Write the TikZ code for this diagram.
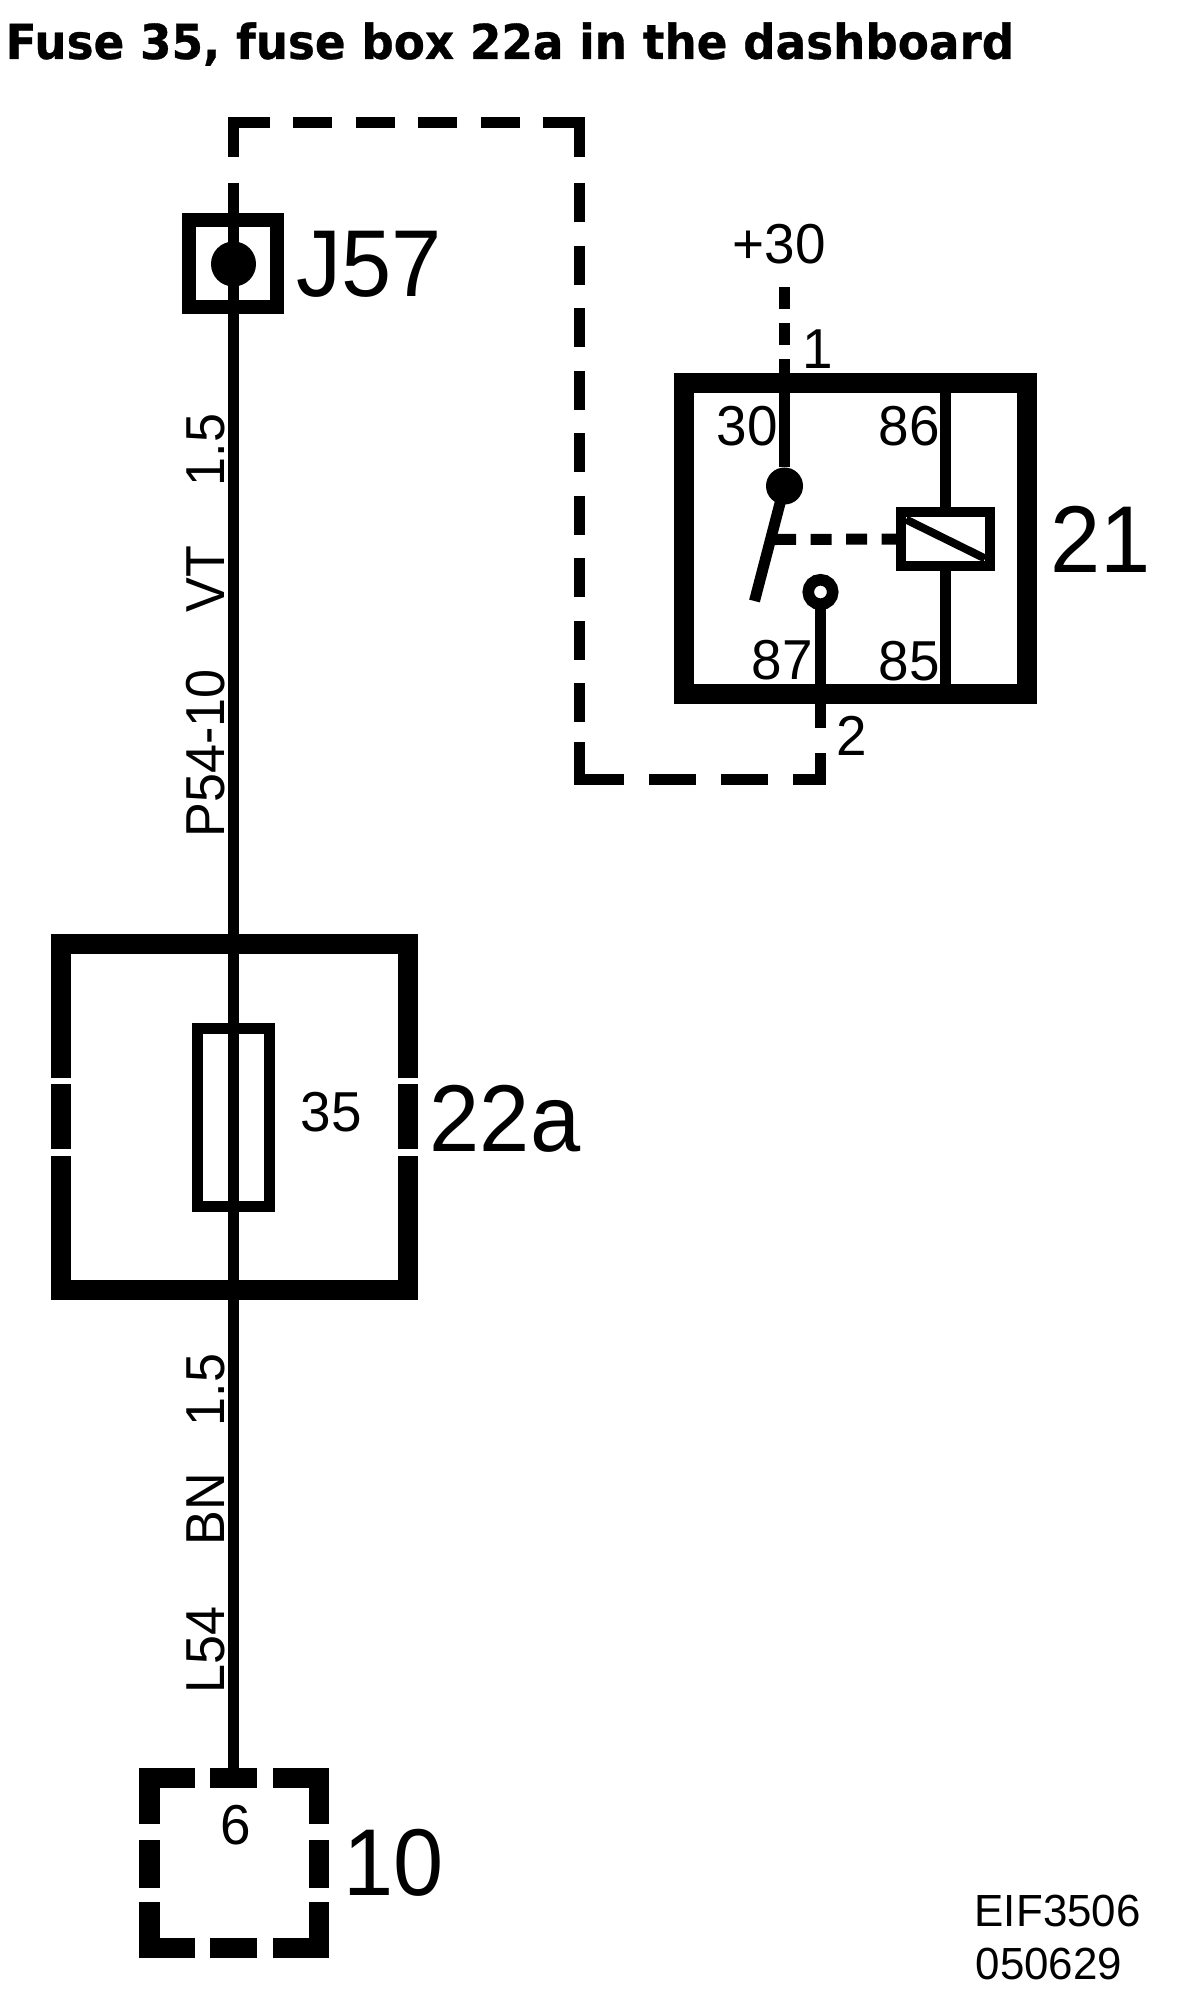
\documentclass[tikz,border=0pt]{standalone}
\usepackage{fontspec}
\setmainfont{Liberation Sans}
\newfontfamily\titlefont{DejaVu Sans}[BoldFeatures={FakeStretch=.94,FakeBold=.6}]
\newfontfamily\bigfont{Liberation Sans}[FakeStretch=.95]
\newfontfamily\midfont{Liberation Sans}[FakeStretch=.975]
\tikzset{
    wire/.style={line width=.11cm},
    frame/.style={line width=.2cm},
    link/.style={line width=.11cm, dash pattern=on .39cm off .235cm},
    lab/.style={inner sep=0, anchor=base west},
    big/.style={lab, font=\fontsize{27}{27}\selectfont\bigfont},
    mid/.style={lab, font=\fontsize{16}{16}\selectfont\midfont},
    small/.style={lab, font=\fontsize{12.8}{13}\selectfont\midfont},
    gauge/.style={lab, rotate=90, font=\fontsize{15.6}{16}\selectfont\bigfont},
    empty/.style={inner sep=0, outer sep=0}
}
\begin{document}
\begin{tikzpicture}[x=.01cm, y=-.01cm]
    \useasboundingbox (0,0) rectangle (1184,2000);
    \node[lab, font=\fontsize{13.7}{14}\selectfont\titlefont\bfseries] (title) at (5,59) {Fuse 35, fuse box 22a in the dashboard};

    % main wire with J57, fuse and connector 10
    \node[empty, draw, line width=.14cm, minimum width=.875cm, minimum height=.86cm] (jbox) at (233,263.5) {};
    \node[empty, circle, fill=black, minimum size=.45cm] (jdot) at (233.5,264) {};
    \node[empty, draw, line width=.105cm, minimum width=.715cm, minimum height=1.78cm] (fuse) at (233.5,1117.5) {};
    \node[empty, minimum width=1.695cm, minimum height=1.695cm] (conn) at (233.5,1862.75) {};
    \coordinate (jtop) at (233.5,183);
    \draw[wire] (jtop) -- (jdot.center) -- (fuse.center) -- (conn.north);

    % fuse box 22a
    \draw[frame] (61,1078)--(61,943.5)--(407.5,943.5)--(407.5,1078);
    \draw[frame] (61,1084)--(61,1149);
    \draw[frame] (407.5,1084)--(407.5,1149);
    \draw[frame] (61,1156)--(61,1290)--(407.5,1290)--(407.5,1156);

    % connector 10
    \draw[frame] (195,1778)--(149.5,1778)--(149.5,1824);
    \draw[frame] (273,1778)--(319,1778)--(319,1824);
    \draw[frame] (149.5,1902)--(149.5,1947.5)--(195,1947.5);
    \draw[frame] (319,1902)--(319,1947.5)--(273,1947.5);
    \draw[frame] (210,1778)--(257,1778);
    \draw[frame] (210,1947.5)--(257,1947.5);
    \draw[frame] (149.5,1840)--(149.5,1888);
    \draw[frame] (319,1840)--(319,1888);

    % relay 21
    \node[empty, draw, line width=.2cm, minimum width=3.43cm, minimum height=3.1cm] (relay) at (855.5,538.5) {};
    \node[empty, circle, fill=black, minimum size=.37cm] (c30) at (784.5,486) {};
    \node[empty, circle, draw, fill=white, line width=.115cm, minimum size=.245cm] (c87) at (820.5,592) {};
    \node[empty, draw, line width=.105cm, minimum width=.89cm, minimum height=.54cm] (coil) at (945.5,539) {};
    \coordinate (armend) at (754.5,601);
    \coordinate (armmid) at (775,539.5);
    \coordinate (diagA) at (906,519.5);
    \coordinate (diagB) at (985,558.5);
    \draw[wire] (relay.north -| c30) -- (c30);
    \draw[wire] (c30.center) -- (armend);
    \draw[wire] (relay.south -| c87) -- (c87);
    \draw[wire] (relay.north -| coil) -- (coil);
    \draw[wire] (relay.south -| coil) -- (coil);
    \draw[line width=.08cm] (diagA) -- (diagB);
    \draw[line width=.11cm, dash pattern=on .21cm off .145cm] (armmid) -- (coil.west);

    % supply +30
    \coordinate (plus) at (784.5,287);
    \draw[wire, dash pattern=on .22cm off .14cm] (plus) -- (relay.north -| c30);

    % dashed link from relay to J57
    \coordinate (jlink) at (233.5,157);
    \coordinate (linkA) at (233.5,122.5);
    \coordinate (linkB) at (579.5,122.5);
    \coordinate (linkC) at (579.5,779.5);
    \coordinate (linkD) at (820.5,779.5);
    \draw[wire] (jlink) -- (linkA) -- (270,122.5);
    \draw[link] (293,122.5) -- (543,122.5);
    \draw[wire] (543,122.5) -- (linkB) -- (579.5,157);
    \draw[link] (579.5,183) -- (579.5,742);
    \draw[wire] (579.5,742) -- (linkC) -- (624,779.5);
    \draw[line width=.11cm, dash pattern=on .47cm off .25cm] (649,779.5) -- (793,779.5);
    \draw[wire] (793,779.5) -- (linkD) -- (820.5,753);
    \draw[wire] (relay.south -| c87) -- (820.5,728);

    % labels
    \node[big] (lj) at (296,296) {J57};
    \node[big] (lr) at (1050,572) {21};
    \node[big] (lf) at (429,1151) {22a};
    \node[big] (lc) at (343,1895) {10};
    \node[mid] (lfn) at (300,1131) {35};
    \node[mid] (lcn) at (220,1844) {6};
    \node[mid] (l30) at (716,445) {30};
    \node[mid] (l86) at (878,445) {86};
    \node[mid] (l87) at (751,679) {87};
    \node[mid] (l85) at (878,680) {85};
    \node[mid] (lp1) at (802,368) {1};
    \node[mid] (lp2) at (836,755) {2};
    \node[mid] (lplus) at (732,263) {+30};
    \node[gauge] (g1) at (224,487) {1.5};
    \node[gauge] (c1) at (224,613) {VT};
    \node[gauge] (w1) at (224,838) {P54-10};
    \node[gauge] (g2) at (224,1427) {1.5};
    \node[gauge] (c2) at (224,1546) {BN};
    \node[gauge] (w2) at (224,1694) {L54};
    \node[small] (code) at (974,1926) {EIF3506};
    \node[small] (date) at (975,1979) {050629};
\end{tikzpicture}
\end{document}
